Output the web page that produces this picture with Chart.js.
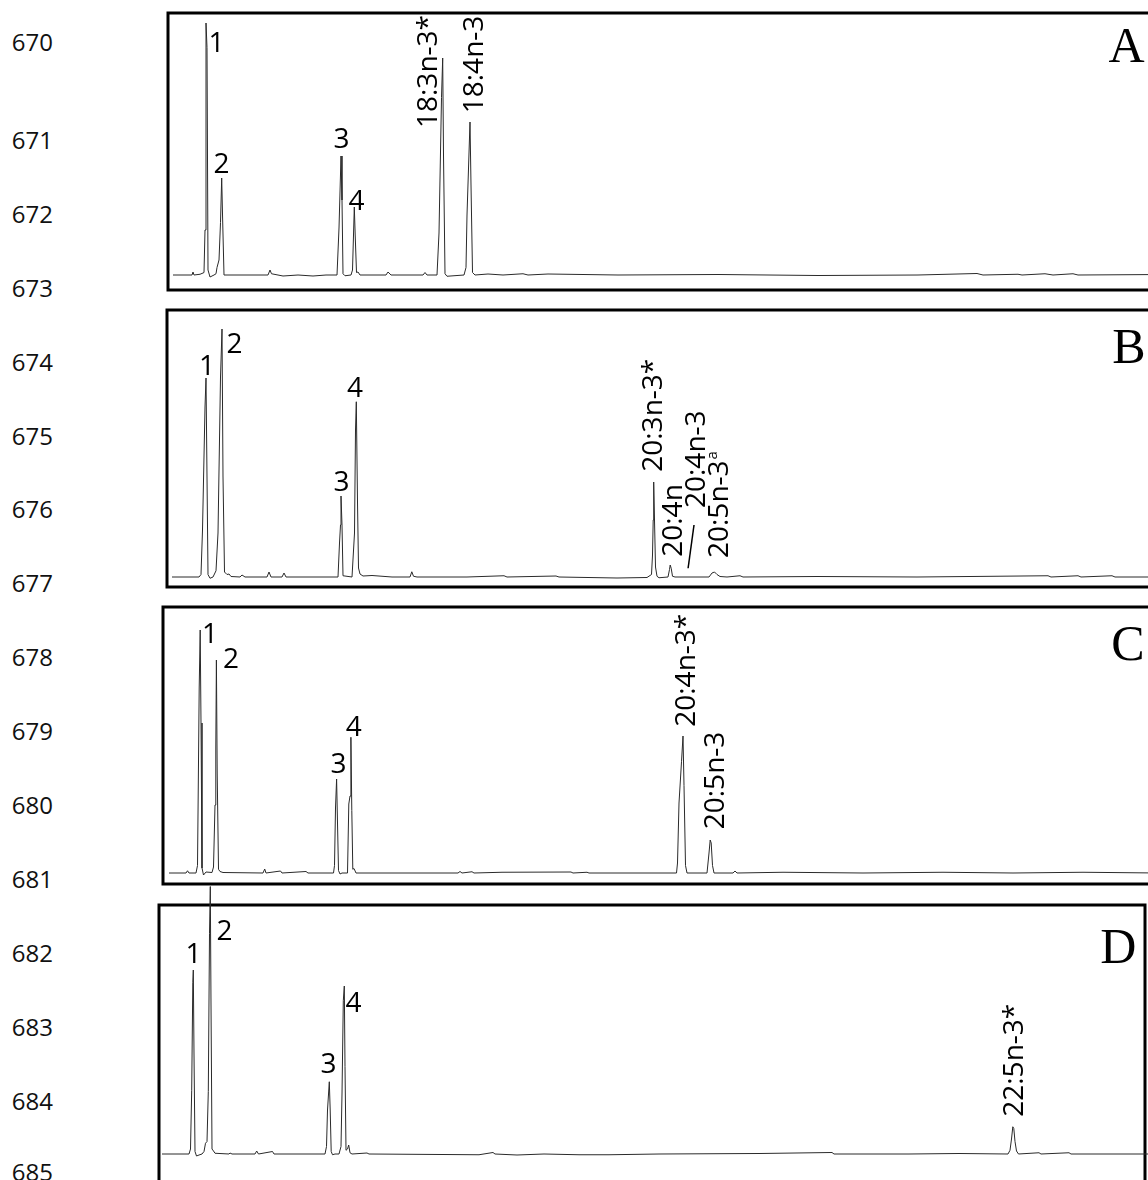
<!DOCTYPE html>
<html>
<head>
<meta charset="utf-8">
<script src="https://cdn.jsdelivr.net/npm/chart.js@4.4.1/dist/chart.umd.min.js"></script>
<style>
  html, body { margin: 0; padding: 0; background: #fff; }
  body { width: 1148px; height: 1180px; position: relative; overflow: hidden; }
  canvas { position: absolute; }
  .ln { position: absolute; left: 0; width: 53px; text-align: right; font: 24px 'Open Sans', sans-serif; line-height: 24px; color: #111; }
</style>
</head>
<body>
<script>
// retention (arbitrary units) and detector signal
const timeA = [0.5,2.4,2.5,2.6,3.2,3.5,3.6,3.7,3.8,3.9,4.0,4.2,4.6,4.8,4.9,5.1,5.25,5.37,5.46,5.6,5.8,10.0,10.2,10.35,11.5,13.0,14.5,15.8,16.9,17.1,17.3,17.4,17.5,17.7,18.3,18.45,18.55,18.63,18.72,18.85,19.0,19.2,21.8,22.0,22.3,25.5,25.7,25.9,26.9,27.1,27.35,27.47,27.55,27.7,27.9,29.6,29.8,29.9,30.1,30.2,30.3,30.45,30.7,32.0,33.5,35.5,36.0,38.0,45.0,55.0,65.0,75.0,80.9,81.5,85.0,85.4,87.7,88.5,90.5,91.0,99.5];
const signalA = [0,0,1.2,0,0.3,0.8,1,18,100.8,91,2,-0.8,0,0.5,3,6,21,38.8,22.8,0,0,0,2,0.5,-0.4,0,-0.4,0,0,18.8,47.6,30,0.5,-0.3,0,2,16,27.2,16,1,1.2,0,0,1.2,0,0,1,0,0,16.8,71,86.8,48,0.5,-0.5,0,3,24,48.8,61.2,36,1,0,0.4,0,0.5,0,0.4,0,0.2,-0.2,0,0.6,0,0.3,0,0.5,0,0.5,0,0.2];

const timeB = [0.5,3.2,3.4,3.55,3.8,3.9,4.0,4.1,4.3,4.6,4.9,5.1,5.35,5.5,5.6,5.75,6.0,6.2,6.4,7.3,7.5,7.8,10.0,10.2,10.4,11.5,11.7,11.9,17.1,17.25,17.35,17.4,17.5,17.6,18.5,18.75,18.85,18.93,19.05,19.15,19.3,19.6,20.5,21.5,22.5,24.3,24.48,24.65,25.0,30.0,33.7,34.0,38.9,39.2,45.0,48.0,48.45,48.55,48.62,48.67,48.75,48.85,49.0,49.2,50.1,50.25,50.32,50.42,50.55,50.8,54.2,54.5,54.75,55.0,55.3,56.0,57.3,57.6,65.0,75.0,88.1,88.4,91.1,91.4,94.5,94.8,99.5];
const signalB = [0,0,1,18.8,68,79.6,40,1,-0.5,0,2.5,17.6,80,99.2,40,2,1,1.2,0.2,0,0.8,0,0,2,0,0,1.6,0,0,13.6,20.8,32.4,20.8,0.5,0,17.6,58.8,70.1,30,3.6,1.2,0.4,0.6,0.3,0,0,2.1,0.3,0,0,0.5,0,0.4,0,-0.4,-0.2,1,8.8,22.8,38,22.8,4,0.3,-0.3,0,3,4.8,3.5,0.3,0,0,1.6,2,1.0,0.2,0,0.5,0,0.2,0,0.5,0,0.5,0,0.5,0,0];
// the short leader line under "20:4n-3"
const leaderTimeB = [52.11, 52.7];
const leaderSignalB = [3.5, 20.8];

const timeC = [0.6,2.3,2.45,2.6,3.3,3.45,3.52,3.62,3.72,3.8,3.9,4.05,4.3,4.9,5.05,5.2,5.28,5.34,5.42,5.55,5.7,6.0,10.0,10.17,10.3,11.75,11.9,14.3,14.5,17.05,17.15,17.25,17.36,17.45,17.55,17.7,17.9,18.45,18.58,18.7,18.79,18.88,18.98,19.1,19.3,29.5,29.7,29.9,30.9,31.1,33.9,40.8,41.0,42.4,42.6,51.35,51.45,51.6,51.85,52.0,52.1,52.25,52.4,54.4,54.6,54.72,54.82,54.95,55.1,57.0,57.2,57.4,62.0,70.0,78.0,85.0,92.0,99.5];
const signalC = [0,0,0.9,0,0,3,31.2,74,97.2,60,2,-0.8,0.4,0.2,2.4,27.2,50,85.2,40,1.5,0.6,0.2,0,1.6,0,0.8,0,0.6,0,0,3,26,37.6,20,1,-0.4,0,0,27.6,30.8,54.3,25,1.5,1.8,0,0,0.6,0,0.5,0,0.3,0.4,0,0.3,0,0,4,28,44.5,54.8,35,3,0,0,8,13.2,12,3,0,0,0.8,0,0.3,0,0.3,0,0.3,0];

const timeD = [0.3,3.0,3.15,3.27,3.38,3.43,3.5,3.6,3.75,4.0,4.3,4.5,4.65,4.8,4.93,5.05,5.13,5.2,5.3,5.45,5.6,7.0,7.1,7.3,9.6,9.77,9.95,11.35,11.5,16.6,16.75,16.85,17.03,17.12,17.22,17.35,17.6,18.0,18.2,18.3,18.43,18.53,18.6,18.7,18.85,18.97,19.1,19.3,20.8,21.0,32.0,33.4,33.6,35.8,38.5,42.0,45.0,50.0,60.0,67.3,67.5,75.0,80.0,84.9,85.1,85.25,85.38,85.48,85.6,85.75,85.95,88.0,88.2,91.0,91.2,98.9];
const signalD = [0,0,2,25.3,68.5,73.6,40,1,-0.8,-0.4,0,1,4.3,5,25,88.3,107,60,2,1.2,0.3,0,0.4,0,0,1.2,0,1,0,0,3,17.6,28.9,17.6,1,-0.3,0,0,3,24,61.3,67.2,35,1.5,2,3.6,0.5,0,0.4,0,-0.3,0.6,0,-0.4,0,-0.3,-0.3,0,0.2,0.6,0,0,0.2,0,1.5,6,10.9,10.2,5,1.2,0,0.5,0,0.5,0,0];

// peak names ("^" marks a superscript)
const peaksA = ['1', '2', '3', '4', '18:3n-3*', '18:4n-3'];
const peaksB = ['1', '2', '3', '4', '20:3n-3*', '20:4n', '20:4n-3', '20:5n-3^a'];
const peaksC = ['1', '2', '3', '4', '20:4n-3*', '20:5n-3'];
const peaksD = ['1', '2', '3', '4', '22:5n-3*'];
const panelNames = ['A', 'B', 'C', 'D'];
const lineNumbers = [670, 671, 672, 673, 674, 675, 676, 677, 678, 679, 680, 681, 682, 683, 684, 685];

// ---- layout ----
const lineNumberY = [43, 141, 215, 289, 363, 437, 510, 584, 658, 732, 806, 880, 954, 1028, 1102, 1173];
// label anchor in data units: [time, signal, rotated]
const spotsA = [[4.85, 93.4, 0], [5.35, 45, 0], [17.35, 55, 0], [18.85, 30, 0], [25.87, 58.8, 1], [30.53, 64.7, 1]];
const spotsB = [[4.0, 84.8, 0], [6.75, 93.8, 0], [17.45, 38.4, 0], [18.8, 76, 0], [48.47, 42.1, 1], [50.45, 8.1, 1], [52.8, 27.6, 1], [55.1, 7.6, 1]];
const spotsC = [[4.7, 96.2, 0], [6.8, 86.2, 0], [17.55, 44.2, 0], [19.08, 58.8, 0], [52.18, 58.5, 1], [55.05, 17.5, 1]];
const spotsD = [[3.45, 80.4, 0], [6.55, 89.6, 0], [16.95, 36.4, 0], [19.45, 60.8, 0], [85.43, 14.9, 1]];

const panels = [
  { left: 168, top: 13,  width: 992, height: 277, base: 275,  time: timeA, signal: signalA, peaks: peaksA, spots: spotsA, letter: [95.85, 92] },
  { left: 167, top: 310, width: 993, height: 277, base: 577,  time: timeB, signal: signalB, peaks: peaksB, spots: spotsB, letter: [96.2, 92.2],
    leader: [leaderTimeB, leaderSignalB] },
  { left: 163, top: 607, width: 997, height: 277, base: 873,  time: timeC, signal: signalC, peaks: peaksC, spots: spotsC, letter: [96.5, 92] },
  { left: 159, top: 905, width: 986, height: 290, base: 1154, time: timeD, signal: signalD, peaks: peaksD, spots: spotsD, letter: [95.93, 82.9] }
];

const PX_PER_T = 10, PX_PER_S = 2.5;
const LABEL_SIZE = 28;
const LABEL_FONT = LABEL_SIZE + "px 'Liberation Sans Narrow', 'Arial Narrow', 'Open Sans', sans-serif";
const SUP_FONT = "15px 'Liberation Sans Narrow', 'Arial Narrow', 'Open Sans', sans-serif";
const CAP = 0.716 * LABEL_SIZE;

lineNumbers.forEach((n, i) => {
  const d = document.createElement('div');
  d.className = 'ln';
  d.style.top = (lineNumberY[i] - 12.75) + 'px';
  d.textContent = n;
  document.body.appendChild(d);
});

function makeDeco(p, letter) {
  return {
    id: 'deco',
    beforeDatasetsDraw(chart) {
      const { ctx, chartArea: a } = chart;
      ctx.save();
      ctx.lineWidth = 3;
      ctx.strokeStyle = '#000';
      ctx.strokeRect(a.left, a.top, a.right - a.left, a.bottom - a.top);
      ctx.restore();
    },
    afterDatasetsDraw(chart) {
      const { ctx, scales: { x, y } } = chart;
      ctx.fillStyle = '#000';
      p.peaks.forEach((name, i) => {
        const [lx, ly, rot] = p.spots[i];
        const px = x.getPixelForValue(lx), py = y.getPixelForValue(ly);
        const [main, sup] = name.split('^');
        ctx.save();
        ctx.font = LABEL_FONT;
        if (rot) {
          ctx.translate(px, py);
          ctx.rotate(-Math.PI / 2);
          ctx.textAlign = 'left';
          ctx.textBaseline = 'alphabetic';
          ctx.fillText(main, 0, CAP / 2);
          if (sup) {
            const w = ctx.measureText(main).width;
            ctx.font = SUP_FONT;
            ctx.fillText(sup, w + 1, -1);
          }
        } else {
          ctx.textAlign = 'center';
          ctx.textBaseline = 'alphabetic';
          ctx.fillText(main, px, py + CAP / 2);
        }
        ctx.restore();
      });
      ctx.save();
      ctx.font = "50px 'Liberation Serif', 'Times New Roman', serif";
      ctx.textAlign = 'center';
      ctx.textBaseline = 'alphabetic';
      ctx.fillText(letter, x.getPixelForValue(p.letter[0]), y.getPixelForValue(p.letter[1]) + 0.662 * 50 / 2);
      ctx.restore();
    }
  };
}

panels.forEach((p, k) => {
  const pad = 24;
  const cv = document.createElement('canvas');
  cv.width = p.width + 2 * pad;
  cv.height = p.height + 2 * pad;
  cv.style.left = (p.left - pad) + 'px';
  cv.style.top = (p.top - pad) + 'px';
  document.body.appendChild(cv);

  const datasets = [{
    data: p.time.map((t, i) => ({ x: t, y: p.signal[i] })),
    borderColor: '#2a2a2a',
    borderWidth: 1,
    pointRadius: 0,
    tension: 0,
    clip: false,
    borderJoinStyle: 'bevel'
  }];
  if (p.leader) {
    datasets.push({
      data: p.leader[0].map((t, i) => ({ x: t, y: p.leader[1][i] })),
      borderColor: '#000',
      borderWidth: 1.5,
      pointRadius: 0,
      clip: false
    });
  }

  new Chart(cv, {
    type: 'line',
    data: { datasets },
    options: {
      responsive: false,
      animation: false,
      devicePixelRatio: 1,
      events: [],
      layout: { padding: pad },
      plugins: { legend: { display: false }, tooltip: { enabled: false } },
      scales: {
        x: { type: 'linear', display: false, min: 0, max: p.width / PX_PER_T },
        y: { type: 'linear', display: false,
             min: -(p.top + p.height - p.base) / PX_PER_S,
             max: (p.base - p.top) / PX_PER_S }
      }
    },
    plugins: [makeDeco(p, panelNames[k])]
  });
});
</script>
</body>
</html>
